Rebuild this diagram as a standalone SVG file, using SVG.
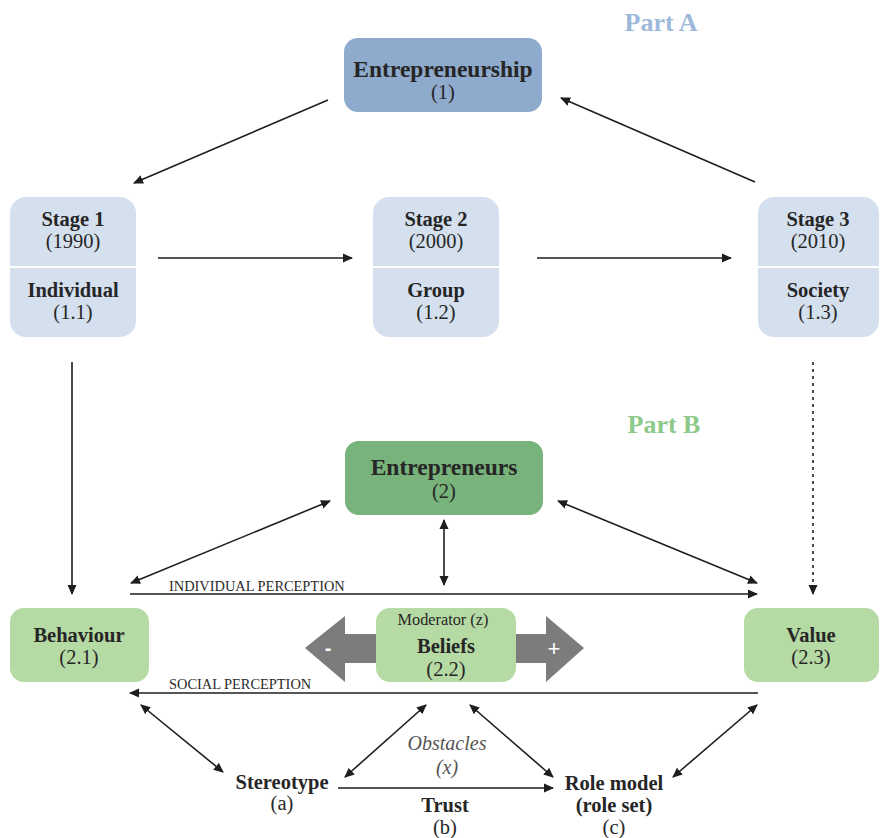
<svg xmlns="http://www.w3.org/2000/svg" width="880" height="838" viewBox="0 0 880 838">
<defs>
<marker id="ah" viewBox="0 0 10 10" refX="9" refY="5" markerWidth="10" markerHeight="10" markerUnits="userSpaceOnUse" orient="auto-start-reverse"><path d="M0,0.5 L10,5 L0,9.5 Z" fill="#1e1e1e"/></marker>
<style>
text{font-family:'Liberation Serif','Times New Roman','DejaVu Serif',serif}
.t{fill:#262626;text-anchor:middle}
.b{font-weight:bold;font-size:20.5px}
.r{font-size:20.5px}
.big{font-size:23.5px}
.c{fill:none;stroke:#1e1e1e;stroke-width:1.6}
.part{font-weight:bold;font-size:26px}
.cap{font-size:14.4px;fill:#2a2a2a}
.stage{fill:#d5e0ef}
.lg{fill:#b6daa4}
</style>
</defs>
<rect width="880" height="838" fill="#fff"/>
<text class="part" x="661" y="31" text-anchor="middle" fill="#9cb8da">Part A</text>
<text class="part" x="664" y="433" text-anchor="middle" fill="#8cc98a">Part B</text>

<g id="entrepreneurship">
<rect x="344" y="38" width="198" height="74" rx="14" fill="#8eaacc"/>
<text class="t b big" x="443" y="77">Entrepreneurship</text>
<text class="t r" x="443" y="99">(1)</text>
</g>
<g id="stage1">
<rect class="stage" x="10" y="197" width="126" height="140" rx="16"/>
<line x1="10" y1="267" x2="136" y2="267" stroke="#fff" stroke-width="2"/>
<text class="t b" x="73" y="226">Stage 1</text>
<text class="t r" x="73" y="248">(1990)</text>
<text class="t b" x="73" y="297">Individual</text>
<text class="t r" x="73" y="319">(1.1)</text>
</g>
<g id="stage2">
<rect class="stage" x="373" y="197" width="126" height="140" rx="16"/>
<line x1="373" y1="267" x2="499" y2="267" stroke="#fff" stroke-width="2"/>
<text class="t b" x="436" y="226">Stage 2</text>
<text class="t r" x="436" y="248">(2000)</text>
<text class="t b" x="436" y="297">Group</text>
<text class="t r" x="436" y="319">(1.2)</text>
</g>
<g id="stage3">
<rect class="stage" x="758" y="197" width="121" height="140" rx="16"/>
<line x1="758" y1="267" x2="879" y2="267" stroke="#fff" stroke-width="2"/>
<text class="t b" x="818" y="226">Stage 3</text>
<text class="t r" x="818" y="248">(2010)</text>
<text class="t b" x="818" y="297">Society</text>
<text class="t r" x="818" y="319">(1.3)</text>
</g>
<g id="entrepreneurs">
<rect x="345" y="441" width="198" height="74" rx="14" fill="#77b37a"/>
<text class="t b big" x="444" y="475">Entrepreneurs</text>
<text class="t r" x="444" y="498">(2)</text>
</g>
<g id="behaviour">
<rect class="lg" x="10" y="608" width="139" height="74" rx="14"/>
<text class="t b" x="79" y="642">Behaviour</text>
<text class="t r" x="79" y="664">(2.1)</text>
</g>
<g id="beliefs">
<path d="M305,648 L345,616 L345,634 L380,634 L380,663 L345,663 L345,682 Z" fill="#7c7c7c"/>
<path d="M584,648 L546,616 L546,634 L510,634 L510,663 L546,663 L546,682 Z" fill="#7c7c7c"/>
<text x="328" y="655" style="font-family:'Liberation Sans',Arial,sans-serif" font-size="20" font-weight="bold" fill="#fff" text-anchor="middle">-</text>
<text x="554" y="656" style="font-family:'Liberation Sans',Arial,sans-serif" font-size="22" fill="#fff" text-anchor="middle">+</text>
<rect class="lg" x="376" y="608" width="140" height="74" rx="14"/>
<text class="t" x="443" y="625" style="font-size:16.3px">Moderator (z)</text>
<text class="t b" x="446" y="653">Beliefs</text>
<text class="t r" x="446" y="676">(2.2)</text>
</g>
<g id="value">
<rect class="lg" x="744" y="608" width="135" height="74" rx="14"/>
<text class="t b" x="811" y="642">Value</text>
<text class="t r" x="811" y="664">(2.3)</text>
</g>
<g id="stereotype">
<text class="t b" x="282" y="789">Stereotype</text>
<text class="t r" x="282" y="810">(a)</text>
</g>
<g id="rolemodel">
<text class="t b" x="614" y="790">Role model</text>
<text class="t b" x="614" y="812">(role set)</text>
<text class="t r" x="614" y="834">(c)</text>
</g>
<g id="obstacles">
<text class="t" x="447" y="750" style="font-size:20px;font-style:italic;fill:#555">Obstacles</text>
<text class="t" x="447" y="774" style="font-size:20px;font-style:italic;fill:#555">(x)</text>
</g>
<g id="trust">
<text class="t b" x="445" y="812">Trust</text>
<text class="t r" x="445" y="834">(b)</text>
</g>

<g id="connectors">
<line class="c" x1="328" y1="100" x2="134" y2="183" marker-end="url(#ah)"/>
<line class="c" x1="755" y1="182" x2="561" y2="98" marker-end="url(#ah)"/>
<line class="c" x1="158" y1="258" x2="352" y2="258" marker-end="url(#ah)"/>
<line class="c" x1="537" y1="258" x2="731" y2="258" marker-end="url(#ah)"/>
<line class="c" x1="72" y1="362" x2="72" y2="594" marker-end="url(#ah)"/>
<line class="c" x1="813" y1="362" x2="813" y2="594" stroke-dasharray="3,4" marker-end="url(#ah)"/>
<line class="c" x1="330" y1="501" x2="131" y2="583" marker-start="url(#ah)" marker-end="url(#ah)"/>
<line class="c" x1="558" y1="501" x2="757" y2="583" marker-start="url(#ah)" marker-end="url(#ah)"/>
<line class="c" x1="444" y1="520" x2="444" y2="585" marker-start="url(#ah)" marker-end="url(#ah)"/>
<line class="c" x1="130" y1="594" x2="757" y2="594" marker-end="url(#ah)"/>
<line class="c" x1="758" y1="693" x2="130" y2="693" stroke-width="2" marker-end="url(#ah)"/>
<line class="c" x1="141" y1="705" x2="223" y2="772" marker-start="url(#ah)" marker-end="url(#ah)"/>
<line class="c" x1="426" y1="705" x2="345" y2="777" marker-start="url(#ah)" marker-end="url(#ah)"/>
<line class="c" x1="470" y1="705" x2="553" y2="777" marker-start="url(#ah)" marker-end="url(#ah)"/>
<line class="c" x1="757" y1="705" x2="673" y2="777" marker-start="url(#ah)" marker-end="url(#ah)"/>
<line class="c" x1="338" y1="788" x2="553" y2="788" stroke-width="2" marker-end="url(#ah)"/>
<text class="cap" x="169" y="591">INDIVIDUAL PERCEPTION</text>
<text class="cap" x="169" y="689">SOCIAL PERCEPTION</text>
</g>
</svg>
